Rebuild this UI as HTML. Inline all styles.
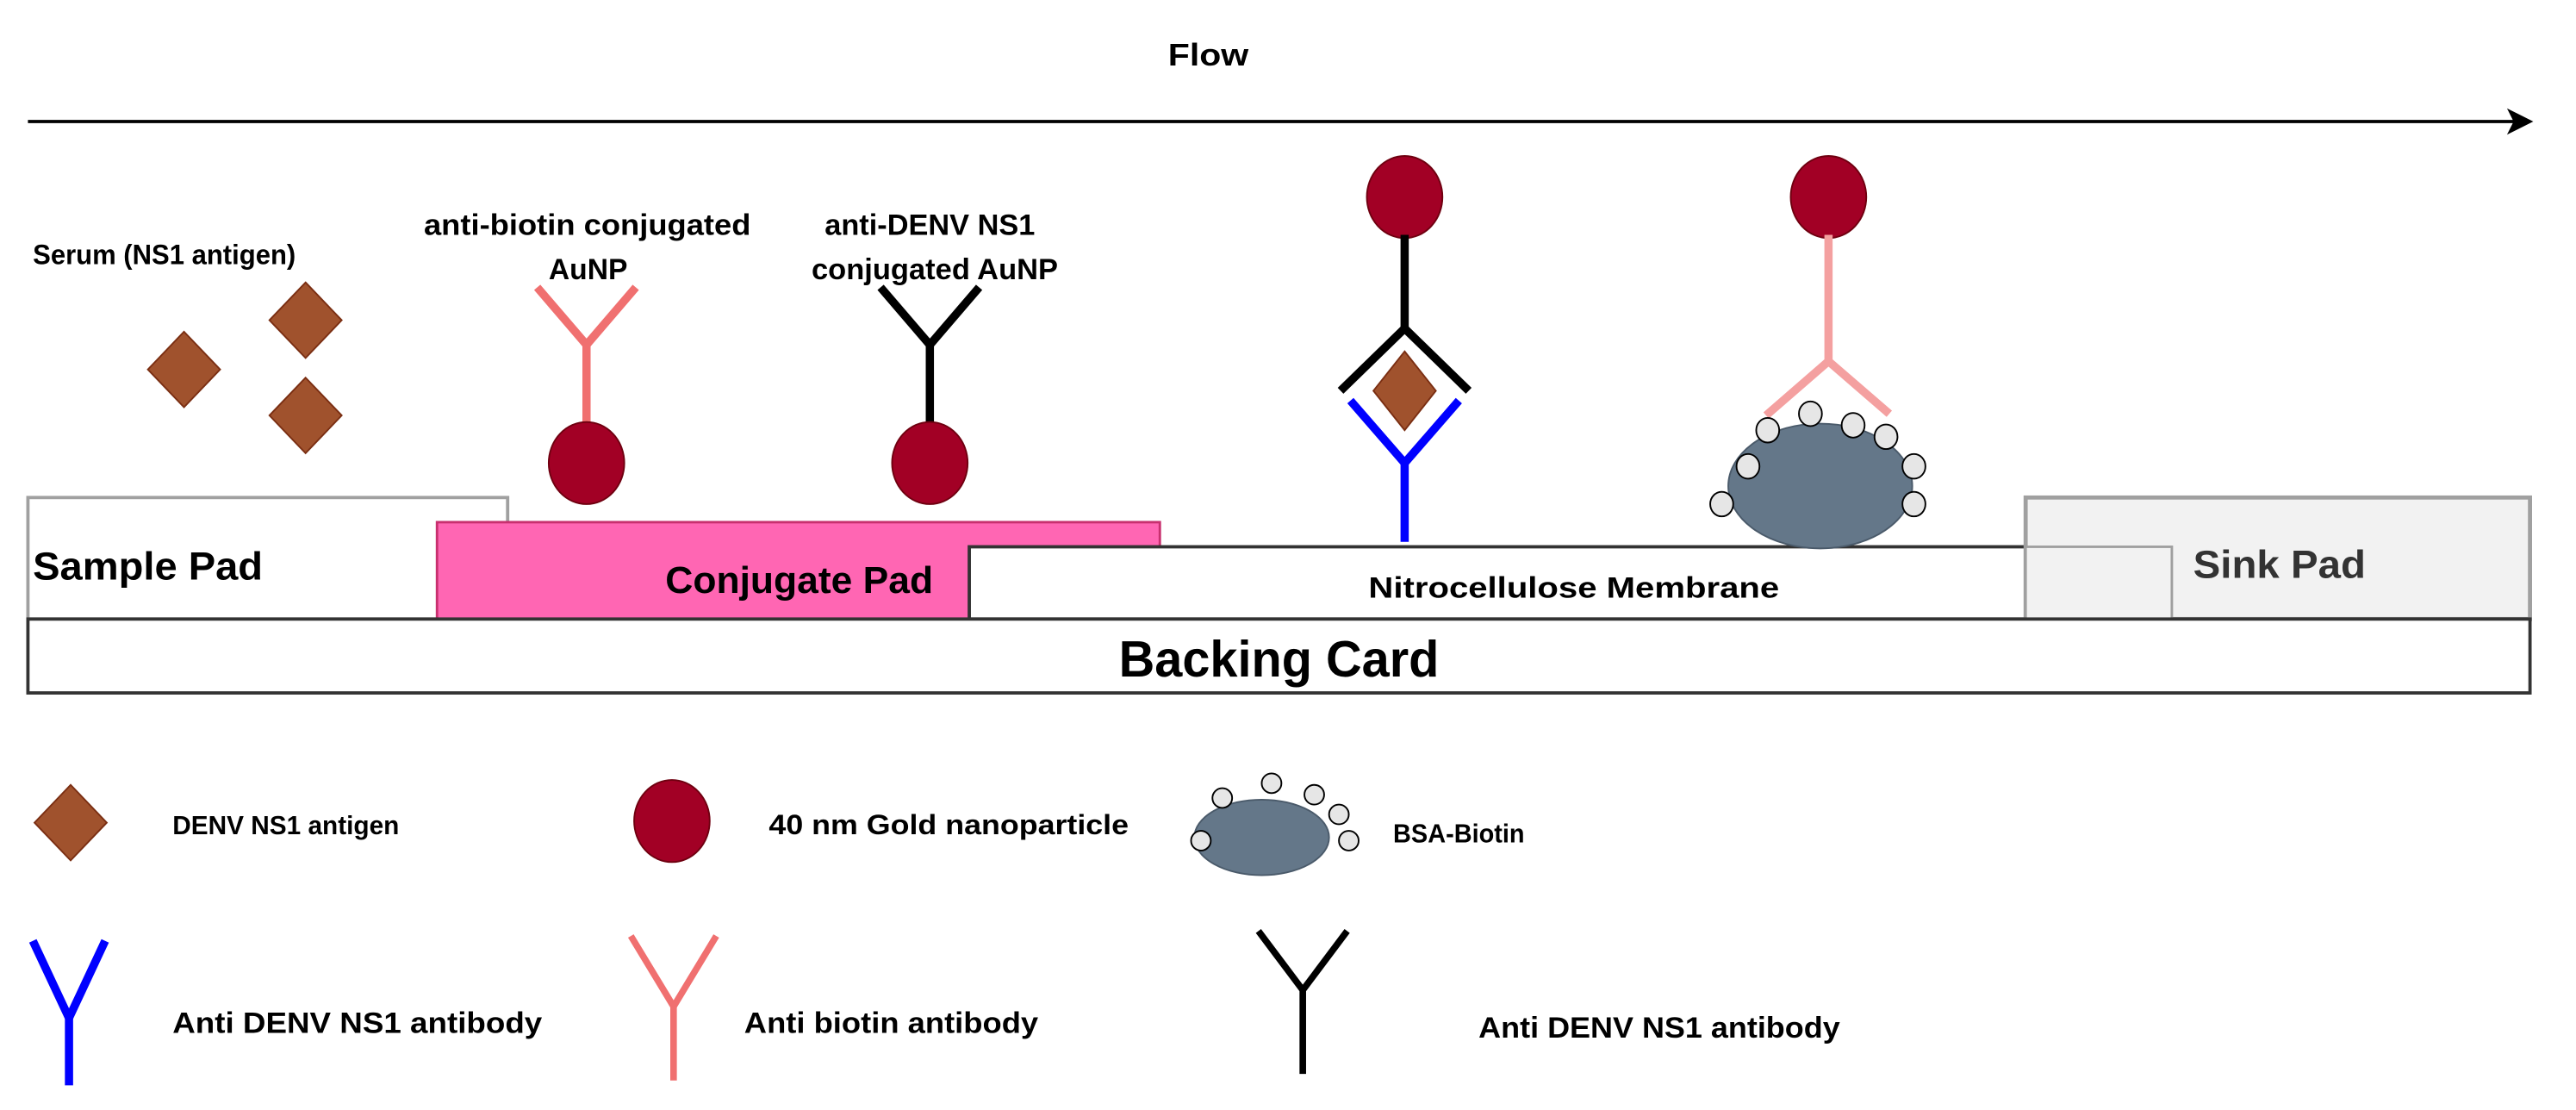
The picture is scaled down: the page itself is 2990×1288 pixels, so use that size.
<!DOCTYPE html>
<html><head><meta charset="utf-8"><style>
html,body{margin:0;padding:0;background:#fff}
svg{display:block}
text{font-family:"Liberation Sans",Arial,sans-serif;font-weight:bold;fill:#000}
</style></head><body>
<svg width="2990" height="1288" viewBox="0 0 1568 676" preserveAspectRatio="none" xmlns="http://www.w3.org/2000/svg">
<defs>
<g id="dia"><polygon points="0,-23 22,0 0,23 -22,0" fill="#a0522d" stroke="#7a2e12" stroke-width="1"/></g>
<g id="ball"><ellipse cx="0" cy="0" rx="23" ry="25" fill="#a20025" stroke="#6f0010" stroke-width="1"/></g>
</defs>
<text x="711" y="40" font-size="19" textLength="49" lengthAdjust="spacingAndGlyphs">Flow</text>
<line x1="17" y1="74" x2="1535" y2="74" stroke="#000" stroke-width="2"/>
<polygon points="1542,74 1526,66 1530,74 1526,82" fill="#000"/>

<text x="20" y="161" font-size="17" textLength="160" lengthAdjust="spacingAndGlyphs">Serum (NS1 antigen)</text>
<use href="#dia" x="112" y="225"/>
<use href="#dia" x="186" y="195"/>
<use href="#dia" x="186" y="253"/>

<text x="258" y="143" font-size="18" textLength="199" lengthAdjust="spacingAndGlyphs">anti-biotin conjugated</text>
<text x="334" y="170" font-size="18" textLength="48" lengthAdjust="spacingAndGlyphs">AuNP</text>
<polyline points="327,175 357,210 387,175" fill="none" stroke="#f07070" stroke-width="5"/>
<line x1="357" y1="208" x2="357" y2="262" stroke="#f07070" stroke-width="5"/>
<use href="#ball" x="357" y="282"/>

<text x="502" y="143" font-size="18" textLength="128" lengthAdjust="spacingAndGlyphs">anti-DENV NS1</text>
<text x="494" y="170" font-size="18" textLength="150" lengthAdjust="spacingAndGlyphs">conjugated AuNP</text>
<polyline points="536,175 566,210 596,175" fill="none" stroke="#000" stroke-width="5"/>
<line x1="566" y1="208" x2="566" y2="262" stroke="#000" stroke-width="5"/>
<use href="#ball" x="566" y="282"/>

<rect x="17" y="303" width="292" height="74" fill="#fff" stroke="#a0a0a0" stroke-width="2"/>
<rect x="266" y="318" width="440" height="59" fill="#ff66b3" stroke="#c8306f" stroke-width="1.5"/>
<rect x="590" y="333" width="643" height="44" fill="#fff" stroke="#333" stroke-width="2"/>
<rect x="1233" y="303" width="307" height="74" fill="#f2f2f2" stroke="#a0a0a0" stroke-width="2.5"/>
<rect x="1233" y="333" width="89" height="44" fill="#f2f2f2" stroke="#a0a0a0" stroke-width="1.5"/>
<rect x="17" y="377" width="1523" height="45" fill="#fff" stroke="#333" stroke-width="2"/>
<text x="20" y="353" font-size="24" textLength="140" lengthAdjust="spacingAndGlyphs">Sample Pad</text>
<text x="405" y="361" font-size="23" textLength="163" lengthAdjust="spacingAndGlyphs">Conjugate Pad</text>
<text x="833" y="364" font-size="18" textLength="250" lengthAdjust="spacingAndGlyphs">Nitrocellulose Membrane</text>
<text x="1335" y="352" font-size="24" textLength="105" lengthAdjust="spacingAndGlyphs" style="fill:#333">Sink Pad</text>
<text x="681" y="412" font-size="31" textLength="195" lengthAdjust="spacingAndGlyphs">Backing Card</text>

<use href="#ball" x="855" y="120"/>
<line x1="855" y1="143" x2="855" y2="203" stroke="#000" stroke-width="5"/>
<polyline points="816,238 855,200 894,238" fill="none" stroke="#000" stroke-width="5"/>
<polygon points="855,214 874,238 855,262 836,238" fill="#a0522d" stroke="#7a2e12" stroke-width="1"/>
<polyline points="822,244 855,282 888,244" fill="none" stroke="#0000ff" stroke-width="5"/>
<line x1="855" y1="280" x2="855" y2="330" stroke="#0000ff" stroke-width="5"/>

<use href="#ball" x="1113" y="120"/>
<line x1="1113" y1="143" x2="1113" y2="222" stroke="#f4a0a0" stroke-width="5"/>
<polyline points="1075,253 1113,220 1150,252" fill="none" stroke="#f4a0a0" stroke-width="5"/>
<ellipse cx="1108" cy="296" rx="56" ry="38" fill="#647789" stroke="#4a5a6a" stroke-width="1"/>
<g fill="#e6e6e6" stroke="#000" stroke-width="1">
<ellipse cx="1076" cy="262" rx="7" ry="7.5"/><ellipse cx="1102" cy="252" rx="7" ry="7.5"/>
<ellipse cx="1128" cy="259" rx="7" ry="7.5"/><ellipse cx="1148" cy="266" rx="7" ry="7.5"/>
<ellipse cx="1064" cy="284" rx="7" ry="7.5"/><ellipse cx="1165" cy="284" rx="7" ry="7.5"/>
<ellipse cx="1048" cy="307" rx="7" ry="7.5"/><ellipse cx="1165" cy="307" rx="7" ry="7.5"/>
</g>

<use href="#dia" x="43" y="501"/>
<text x="105" y="508" font-size="16" textLength="138" lengthAdjust="spacingAndGlyphs">DENV NS1 antigen</text>
<use href="#ball" x="409" y="500"/>
<text x="468" y="508" font-size="17" textLength="219" lengthAdjust="spacingAndGlyphs">40 nm Gold nanoparticle</text>
<ellipse cx="768" cy="510" rx="41" ry="23" fill="#647789" stroke="#4a5a6a" stroke-width="1"/>
<g fill="#e6e6e6" stroke="#000" stroke-width="1">
<ellipse cx="744" cy="486" rx="6" ry="6"/><ellipse cx="774" cy="477" rx="6" ry="6"/>
<ellipse cx="800" cy="484" rx="6" ry="6"/><ellipse cx="815" cy="496" rx="6" ry="6"/>
<ellipse cx="731" cy="512" rx="6" ry="6"/><ellipse cx="821" cy="512" rx="6" ry="6"/>
</g>
<text x="848" y="513" font-size="16" textLength="80" lengthAdjust="spacingAndGlyphs">BSA-Biotin</text>

<polyline points="20,573 42,620 64,573" fill="none" stroke="#0000ff" stroke-width="5"/>
<line x1="42" y1="618" x2="42" y2="661" stroke="#0000ff" stroke-width="5"/>
<text x="105" y="629" font-size="18" textLength="225" lengthAdjust="spacingAndGlyphs">Anti DENV NS1 antibody</text>
<polyline points="384,570 410,613 436,570" fill="none" stroke="#f07070" stroke-width="4"/>
<line x1="410" y1="611" x2="410" y2="658" stroke="#f07070" stroke-width="4"/>
<text x="453" y="629" font-size="18" textLength="179" lengthAdjust="spacingAndGlyphs">Anti biotin antibody</text>
<polyline points="766,567 793,603 820,567" fill="none" stroke="#000" stroke-width="4"/>
<line x1="793" y1="601" x2="793" y2="654" stroke="#000" stroke-width="4"/>
<text x="900" y="632" font-size="18" textLength="220" lengthAdjust="spacingAndGlyphs">Anti DENV NS1 antibody</text>
</svg>
</body></html>
